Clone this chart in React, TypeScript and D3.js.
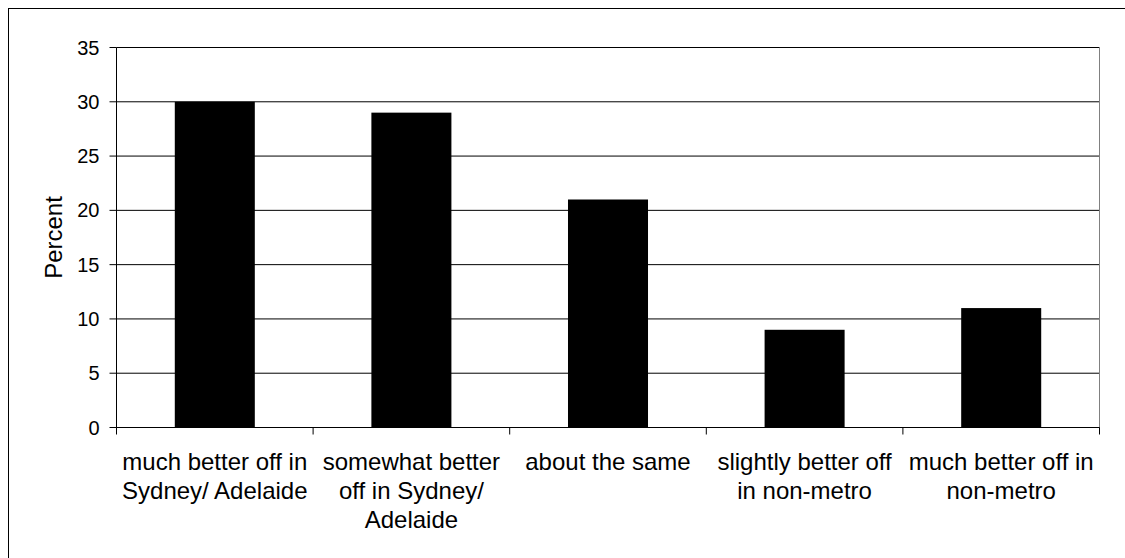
import React from "react";
import * as d3 from "d3";

const categories: string[][] = [
  ["much better off in", "Sydney/ Adelaide"],
  ["somewhat better", "off in Sydney/", "Adelaide"],
  ["about the same"],
  ["slightly better off", "in non-metro"],
  ["much better off in", "non-metro"],
];
const values: number[] = [30, 29, 21, 9, 11];
const yTicks: number[] = [0, 5, 10, 15, 20, 25, 30, 35];
const yLabel = "Percent";

const W = 1117;
const H = 550;
const FONT = "'Liberation Sans', Arial, Helvetica, sans-serif";

export default function App() {
  // page coordinates; the svg sits at (8,8), the group shifts back by that offset
  const left = 116.5;
  const right = 1099.5;
  const top = 47.5;
  const bottom = 427.5;

  const keys = categories.map((_, i) => String(i));
  const x = d3.scaleBand<string>().domain(keys).range([left, right]).padding(0);
  const y = d3.scaleLinear().domain([0, 35]).range([bottom, top]);
  const barW = x.bandwidth() * 0.407;

  return (
    <svg
      width={W}
      height={H}
      style={{ display: "block", position: "fixed", left: 8, top: 8 }}
      fontFamily={FONT}
    >
      <g transform="translate(-8,-8)">
        <rect x={8.5} y={8.5} width={1300} height={800} fill="#fff" stroke="#000" strokeWidth={1} />

        {/* horizontal gridlines */}
        {yTicks.map((t) => (
          <line key={"g" + t} x1={left} x2={right} y1={y(t)} y2={y(t)} stroke="#000" strokeWidth={1} />
        ))}
        {/* right edge of plot area */}
        <line x1={right} x2={right} y1={top} y2={bottom} stroke="#808080" strokeWidth={1} />

        {/* bars */}
        {values.map((v, i) => {
          const cx = (x(String(i)) as number) + x.bandwidth() / 2;
          return (
            <rect
              key={"b" + i}
              x={cx - barW / 2}
              y={y(v)}
              width={barW}
              height={bottom - y(v)}
              fill="#000"
            />
          );
        })}

        {/* y axis */}
        <line x1={left} x2={left} y1={top} y2={bottom} stroke="#000" strokeWidth={1} />
        {yTicks.map((t) => (
          <g key={"yt" + t}>
            <line x1={left - 7} x2={left} y1={y(t)} y2={y(t)} stroke="#000" strokeWidth={1} />
            <text x={99.5} y={y(t)} dy="0.35em" textAnchor="end" fontSize={20} fill="#000">
              {t}
            </text>
          </g>
        ))}

        {/* x axis */}
        <line x1={left} x2={right} y1={bottom} y2={bottom} stroke="#000" strokeWidth={1} />
        {d3.range(categories.length + 1).map((i) => {
          const xx = left + i * x.bandwidth();
          return <line key={"xt" + i} x1={xx} x2={xx} y1={bottom} y2={bottom + 7} stroke="#000" strokeWidth={1} />;
        })}
        {categories.map((lines, i) => {
          const cx = (x(String(i)) as number) + x.bandwidth() / 2;
          return (
            <text key={"xl" + i} textAnchor="middle" fontSize={24} fill="#000">
              {lines.map((ln, j) => (
                <tspan key={j} x={cx} y={469.5 + j * 29.3}>
                  {ln}
                </tspan>
              ))}
            </text>
          );
        })}

        {/* y axis title */}
        <text
          transform={`translate(61.5,${(top + bottom) / 2}) rotate(-90)`}
          textAnchor="middle"
          fontSize={24}
          fill="#000"
        >
          {yLabel}
        </text>
      </g>
    </svg>
  );
}
